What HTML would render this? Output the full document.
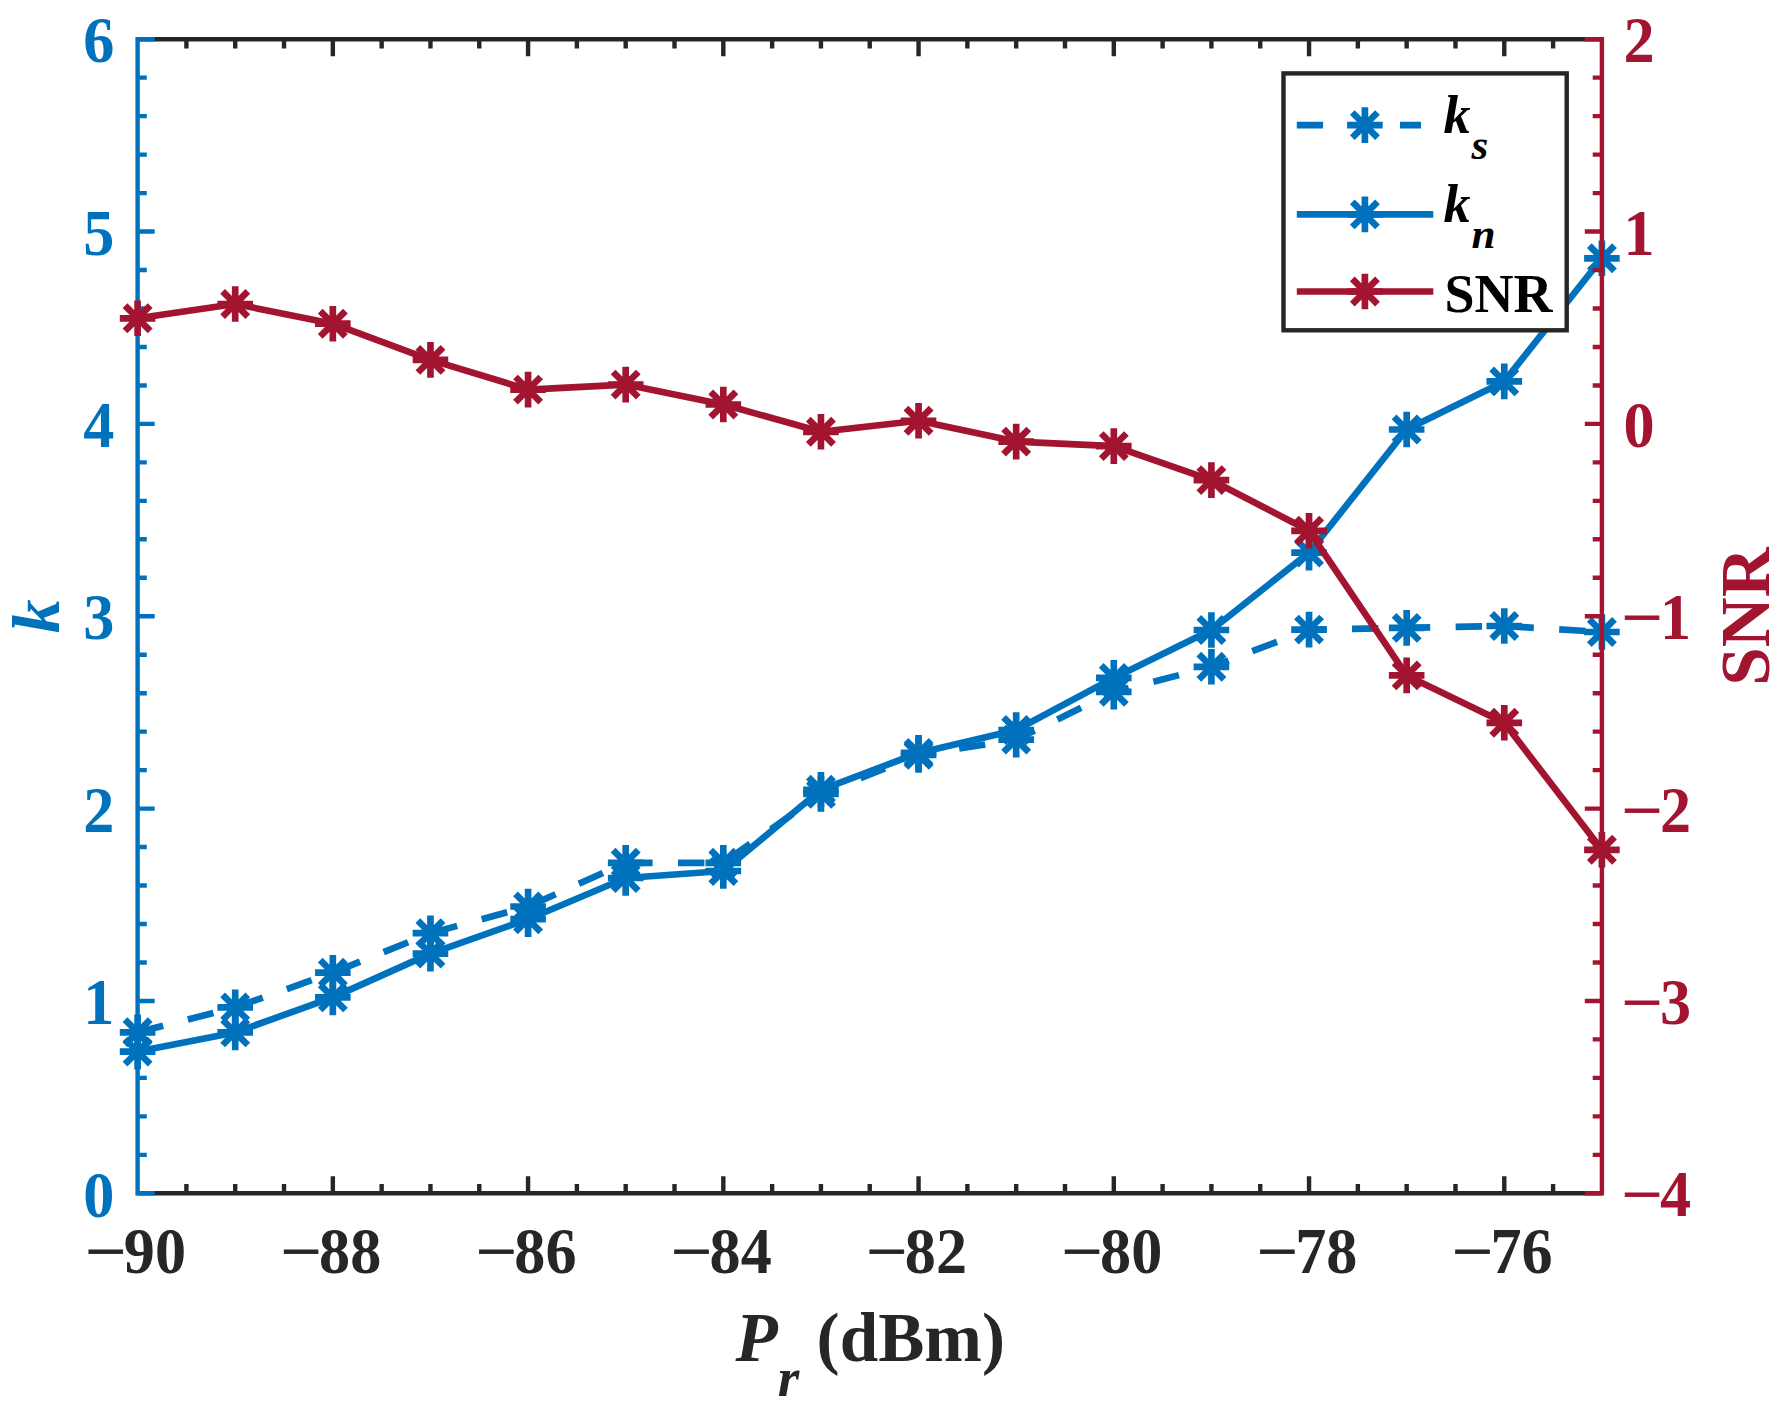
<!DOCTYPE html>
<html lang="en"><head><meta charset="utf-8"><title>k and SNR versus received power</title>
<style>html,body{margin:0;padding:0;background:#fff}svg{display:block}text{font-family:"Liberation Serif","Times New Roman",serif;font-weight:bold}</style></head><body>
<svg width="1787" height="1420" viewBox="0 0 1787 1420">
<rect width="1787" height="1420" fill="#fff"/>
<defs>
<g id="m" fill="none" stroke-width="6.67" stroke-linecap="butt"><path d="M-17.80 0H17.80M0 -17.80V17.80M-12.59 -12.59L12.59 12.59M-12.59 12.59L12.59 -12.59"/></g>
</defs>
<path d="M137.6 39.2H1601.9M137.6 1193.3H1601.9M186.41 39.2v9.2M186.41 1193.3v-9.2M235.22 39.2v9.2M235.22 1193.3v-9.2M284.03 39.2v9.2M284.03 1193.3v-9.2M332.84 39.2v17.1M332.84 1193.3v-17.1M381.65 39.2v9.2M381.65 1193.3v-9.2M430.46 39.2v9.2M430.46 1193.3v-9.2M479.27 39.2v9.2M479.27 1193.3v-9.2M528.08 39.2v17.1M528.08 1193.3v-17.1M576.89 39.2v9.2M576.89 1193.3v-9.2M625.7 39.2v9.2M625.7 1193.3v-9.2M674.51 39.2v9.2M674.51 1193.3v-9.2M723.32 39.2v17.1M723.32 1193.3v-17.1M772.13 39.2v9.2M772.13 1193.3v-9.2M820.94 39.2v9.2M820.94 1193.3v-9.2M869.75 39.2v9.2M869.75 1193.3v-9.2M918.56 39.2v17.1M918.56 1193.3v-17.1M967.37 39.2v9.2M967.37 1193.3v-9.2M1016.18 39.2v9.2M1016.18 1193.3v-9.2M1064.99 39.2v9.2M1064.99 1193.3v-9.2M1113.8 39.2v17.1M1113.8 1193.3v-17.1M1162.61 39.2v9.2M1162.61 1193.3v-9.2M1211.42 39.2v9.2M1211.42 1193.3v-9.2M1260.23 39.2v9.2M1260.23 1193.3v-9.2M1309.04 39.2v17.1M1309.04 1193.3v-17.1M1357.85 39.2v9.2M1357.85 1193.3v-9.2M1406.66 39.2v9.2M1406.66 1193.3v-9.2M1455.47 39.2v9.2M1455.47 1193.3v-9.2M1504.28 39.2v17.1M1504.28 1193.3v-17.1M1553.09 39.2v9.2M1553.09 1193.3v-9.2" fill="none" stroke="#262626" stroke-width="4.4"/>
<path d="M137.6 37V1195.5M137.6 1193.3h17.1M137.6 1154.83h9.2M137.6 1116.36h9.2M137.6 1077.89h9.2M137.6 1039.42h9.2M137.6 1000.95h17.1M137.6 962.48h9.2M137.6 924.01h9.2M137.6 885.54h9.2M137.6 847.07h9.2M137.6 808.6h17.1M137.6 770.13h9.2M137.6 731.66h9.2M137.6 693.19h9.2M137.6 654.72h9.2M137.6 616.25h17.1M137.6 577.78h9.2M137.6 539.31h9.2M137.6 500.84h9.2M137.6 462.37h9.2M137.6 423.9h17.1M137.6 385.43h9.2M137.6 346.96h9.2M137.6 308.49h9.2M137.6 270.02h9.2M137.6 231.55h17.1M137.6 193.08h9.2M137.6 154.61h9.2M137.6 116.14h9.2M137.6 77.67h9.2M137.6 39.2h17.1" fill="none" stroke="#0072BD" stroke-width="4.4"/>
<polyline points="137.6,1032.3 235.22,1007.4 332.84,972.7 430.46,933.2 528.08,906.5 625.7,862.8 723.32,862.8 820.94,793.9 918.56,754.9 1016.18,739.6 1113.8,691.8 1211.42,666.8 1309.04,629.6 1406.66,627.9 1504.28,626 1601.9,632" fill="none" stroke="#0072BD" stroke-width="6.67" stroke-linejoin="round" stroke-dasharray="26.4 25.43"/>
<g stroke="#0072BD"><use href="#m" x="137.6" y="1032.3"/><use href="#m" x="235.22" y="1007.4"/><use href="#m" x="332.84" y="972.7"/><use href="#m" x="430.46" y="933.2"/><use href="#m" x="528.08" y="906.5"/><use href="#m" x="625.7" y="862.8"/><use href="#m" x="723.32" y="862.8"/><use href="#m" x="820.94" y="793.9"/><use href="#m" x="918.56" y="754.9"/><use href="#m" x="1016.18" y="739.6"/><use href="#m" x="1113.8" y="691.8"/><use href="#m" x="1211.42" y="666.8"/><use href="#m" x="1309.04" y="629.6"/><use href="#m" x="1406.66" y="627.9"/><use href="#m" x="1504.28" y="626"/><use href="#m" x="1601.9" y="632"/></g>
<polyline points="137.6,1051.6 235.22,1032.4 332.84,997.4 430.46,953.6 528.08,919.2 625.7,878 723.32,871 820.94,789.8 918.56,752.9 1016.18,730 1113.8,677.9 1211.42,630 1309.04,552.6 1406.66,429.5 1504.28,381.4 1601.9,258.3" fill="none" stroke="#0072BD" stroke-width="6.67" stroke-linejoin="round"/>
<g stroke="#0072BD"><use href="#m" x="137.6" y="1051.6"/><use href="#m" x="235.22" y="1032.4"/><use href="#m" x="332.84" y="997.4"/><use href="#m" x="430.46" y="953.6"/><use href="#m" x="528.08" y="919.2"/><use href="#m" x="625.7" y="878"/><use href="#m" x="723.32" y="871"/><use href="#m" x="820.94" y="789.8"/><use href="#m" x="918.56" y="752.9"/><use href="#m" x="1016.18" y="730"/><use href="#m" x="1113.8" y="677.9"/><use href="#m" x="1211.42" y="630"/><use href="#m" x="1309.04" y="552.6"/><use href="#m" x="1406.66" y="429.5"/><use href="#m" x="1504.28" y="381.4"/><use href="#m" x="1601.9" y="258.3"/></g>
<path d="M1601.9 37V1195.5M1601.9 1193.3h-17.1M1601.9 1154.83h-9.2M1601.9 1116.36h-9.2M1601.9 1077.89h-9.2M1601.9 1039.42h-9.2M1601.9 1000.95h-17.1M1601.9 962.48h-9.2M1601.9 924.01h-9.2M1601.9 885.54h-9.2M1601.9 847.07h-9.2M1601.9 808.6h-17.1M1601.9 770.13h-9.2M1601.9 731.66h-9.2M1601.9 693.19h-9.2M1601.9 654.72h-9.2M1601.9 616.25h-17.1M1601.9 577.78h-9.2M1601.9 539.31h-9.2M1601.9 500.84h-9.2M1601.9 462.37h-9.2M1601.9 423.9h-17.1M1601.9 385.43h-9.2M1601.9 346.96h-9.2M1601.9 308.49h-9.2M1601.9 270.02h-9.2M1601.9 231.55h-17.1M1601.9 193.08h-9.2M1601.9 154.61h-9.2M1601.9 116.14h-9.2M1601.9 77.67h-9.2M1601.9 39.2h-17.1" fill="none" stroke="#A2142F" stroke-width="4.4"/>
<polyline points="137.6,318.3 235.22,304 332.84,323.7 430.46,359.9 528.08,389.6 625.7,384.6 723.32,404.5 820.94,431.8 918.56,420.8 1016.18,441.6 1113.8,446.1 1211.42,480.1 1309.04,530.8 1406.66,675.4 1504.28,722.8 1601.9,849.8" fill="none" stroke="#A2142F" stroke-width="6.67" stroke-linejoin="round"/>
<g stroke="#A2142F"><use href="#m" x="137.6" y="318.3"/><use href="#m" x="235.22" y="304"/><use href="#m" x="332.84" y="323.7"/><use href="#m" x="430.46" y="359.9"/><use href="#m" x="528.08" y="389.6"/><use href="#m" x="625.7" y="384.6"/><use href="#m" x="723.32" y="404.5"/><use href="#m" x="820.94" y="431.8"/><use href="#m" x="918.56" y="420.8"/><use href="#m" x="1016.18" y="441.6"/><use href="#m" x="1113.8" y="446.1"/><use href="#m" x="1211.42" y="480.1"/><use href="#m" x="1309.04" y="530.8"/><use href="#m" x="1406.66" y="675.4"/><use href="#m" x="1504.28" y="722.8"/><use href="#m" x="1601.9" y="849.8"/></g>
<rect x="1283.5" y="73.4" width="283.2" height="256.9" fill="#fff" stroke="#262626" stroke-width="4.4"/>
<path d="M1296.8 125.1H1323.1M1400 125.1H1421" stroke="#0072BD" stroke-width="6.67" fill="none"/>
<use href="#m" x="1364.9" y="125.1" stroke="#0072BD"/>
<path d="M1296.8 214.4H1433.3" stroke="#0072BD" stroke-width="6.67" fill="none"/>
<use href="#m" x="1364.9" y="214.4" stroke="#0072BD"/>
<path d="M1296.8 291.5H1433.3" stroke="#A2142F" stroke-width="6.67" fill="none"/>
<use href="#m" x="1364.9" y="291.5" stroke="#A2142F"/>
<text x="1443.5" y="132.6" font-size="54.0" font-style="italic" fill="#000">k<tspan font-size="43.2" dx="1" dy="26.4">s</tspan></text>
<text x="1443.5" y="221.9" font-size="54.0" font-style="italic" fill="#000">k<tspan font-size="43.2" dx="1" dy="26.4">n</tspan></text>
<text x="1444.5" y="311.5" font-size="54.0" fill="#000">SNR</text>
<text transform="translate(85.3 1273) scale(1 1.045)" font-size="62.2" text-anchor="start" fill="#262626"><tspan font-weight="normal" font-size="72.77" stroke="#262626" stroke-width="0.7" dy="3.9">−</tspan><tspan dx="-2.5" dy="-3.9">90</tspan></text>
<text transform="translate(280.54 1273) scale(1 1.045)" font-size="62.2" text-anchor="start" fill="#262626"><tspan font-weight="normal" font-size="72.77" stroke="#262626" stroke-width="0.7" dy="3.9">−</tspan><tspan dx="-2.5" dy="-3.9">88</tspan></text>
<text transform="translate(475.78 1273) scale(1 1.045)" font-size="62.2" text-anchor="start" fill="#262626"><tspan font-weight="normal" font-size="72.77" stroke="#262626" stroke-width="0.7" dy="3.9">−</tspan><tspan dx="-2.5" dy="-3.9">86</tspan></text>
<text transform="translate(671.02 1273) scale(1 1.045)" font-size="62.2" text-anchor="start" fill="#262626"><tspan font-weight="normal" font-size="72.77" stroke="#262626" stroke-width="0.7" dy="3.9">−</tspan><tspan dx="-2.5" dy="-3.9">84</tspan></text>
<text transform="translate(866.26 1273) scale(1 1.045)" font-size="62.2" text-anchor="start" fill="#262626"><tspan font-weight="normal" font-size="72.77" stroke="#262626" stroke-width="0.7" dy="3.9">−</tspan><tspan dx="-2.5" dy="-3.9">82</tspan></text>
<text transform="translate(1061.5 1273) scale(1 1.045)" font-size="62.2" text-anchor="start" fill="#262626"><tspan font-weight="normal" font-size="72.77" stroke="#262626" stroke-width="0.7" dy="3.9">−</tspan><tspan dx="-2.5" dy="-3.9">80</tspan></text>
<text transform="translate(1256.74 1273) scale(1 1.045)" font-size="62.2" text-anchor="start" fill="#262626"><tspan font-weight="normal" font-size="72.77" stroke="#262626" stroke-width="0.7" dy="3.9">−</tspan><tspan dx="-2.5" dy="-3.9">78</tspan></text>
<text transform="translate(1451.98 1273) scale(1 1.045)" font-size="62.2" text-anchor="start" fill="#262626"><tspan font-weight="normal" font-size="72.77" stroke="#262626" stroke-width="0.7" dy="3.9">−</tspan><tspan dx="-2.5" dy="-3.9">76</tspan></text>
<text transform="translate(114.3 1216.5) scale(1 1.045)" font-size="62.2" text-anchor="end" fill="#0072BD">0</text>
<text transform="translate(114.3 1024.15) scale(1 1.045)" font-size="62.2" text-anchor="end" fill="#0072BD">1</text>
<text transform="translate(114.3 831.8) scale(1 1.045)" font-size="62.2" text-anchor="end" fill="#0072BD">2</text>
<text transform="translate(114.3 639.45) scale(1 1.045)" font-size="62.2" text-anchor="end" fill="#0072BD">3</text>
<text transform="translate(114.3 447.1) scale(1 1.045)" font-size="62.2" text-anchor="end" fill="#0072BD">4</text>
<text transform="translate(114.3 254.75) scale(1 1.045)" font-size="62.2" text-anchor="end" fill="#0072BD">5</text>
<text transform="translate(114.3 62.4) scale(1 1.045)" font-size="62.2" text-anchor="end" fill="#0072BD">6</text>
<text transform="translate(1621.5 1216.3) scale(1 1.045)" font-size="62.2" text-anchor="start" fill="#A2142F"><tspan font-weight="normal" font-size="72.77" stroke="#A2142F" stroke-width="0.7" dy="3.9">−</tspan><tspan dx="-2.5" dy="-3.9">4</tspan></text>
<text transform="translate(1621.5 1023.95) scale(1 1.045)" font-size="62.2" text-anchor="start" fill="#A2142F"><tspan font-weight="normal" font-size="72.77" stroke="#A2142F" stroke-width="0.7" dy="3.9">−</tspan><tspan dx="-2.5" dy="-3.9">3</tspan></text>
<text transform="translate(1621.5 831.6) scale(1 1.045)" font-size="62.2" text-anchor="start" fill="#A2142F"><tspan font-weight="normal" font-size="72.77" stroke="#A2142F" stroke-width="0.7" dy="3.9">−</tspan><tspan dx="-2.5" dy="-3.9">2</tspan></text>
<text transform="translate(1621.5 639.25) scale(1 1.045)" font-size="62.2" text-anchor="start" fill="#A2142F"><tspan font-weight="normal" font-size="72.77" stroke="#A2142F" stroke-width="0.7" dy="3.9">−</tspan><tspan dx="-2.5" dy="-3.9">1</tspan></text>
<text transform="translate(1623.6 446.9) scale(1 1.045)" font-size="62.2" text-anchor="start" fill="#A2142F">0</text>
<text transform="translate(1623.6 254.55) scale(1 1.045)" font-size="62.2" text-anchor="start" fill="#A2142F">1</text>
<text transform="translate(1623.6 62.2) scale(1 1.045)" font-size="62.2" text-anchor="start" fill="#A2142F">2</text>
<text x="735.5" y="1361" font-size="69.2" fill="#262626"><tspan font-style="italic">P</tspan><tspan font-style="italic" font-size="55.36" dy="35.4">r</tspan><tspan dy="-35.4"> (dBm)</tspan></text>
<text transform="translate(58.6 616.25) rotate(-90)" font-size="67.6" font-style="italic" text-anchor="middle" fill="#0072BD">k</text>
<text transform="translate(1768.5 616.55) rotate(-90)" font-size="69.2" text-anchor="middle" fill="#A2142F">SNR</text>
</svg></body></html>
